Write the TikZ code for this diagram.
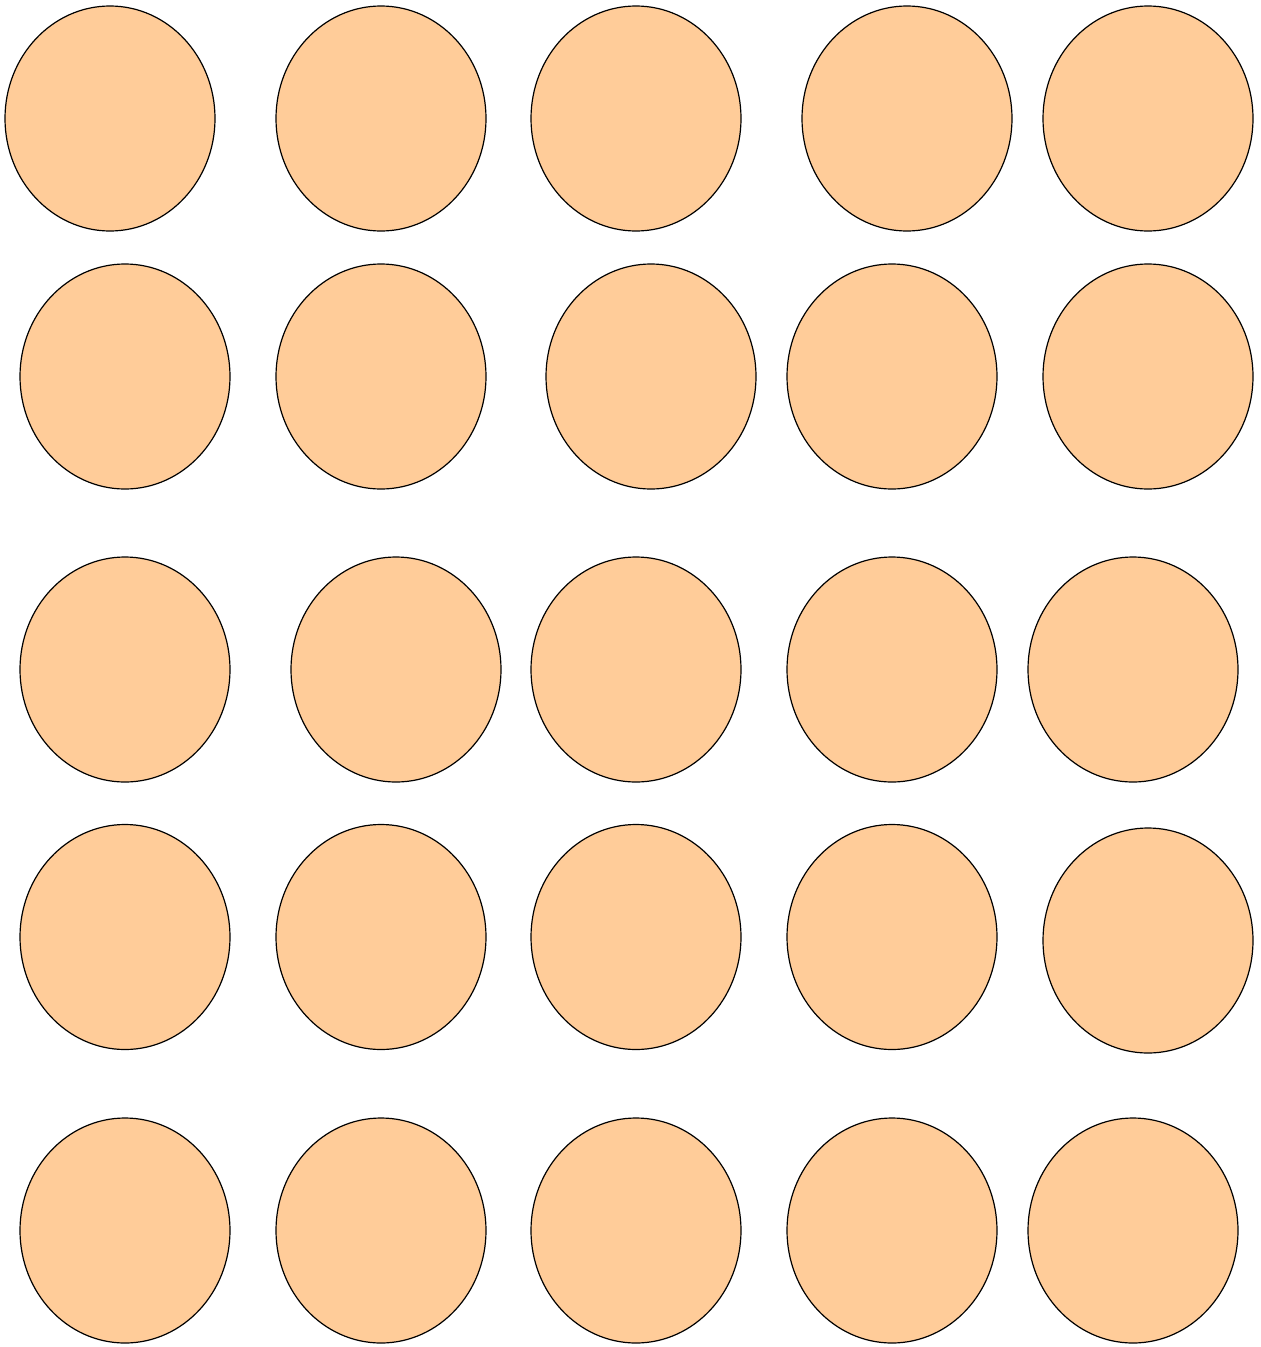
\documentclass[tikz,border=0pt]{standalone}
\usetikzlibrary{shapes.geometric}
\definecolor{peach}{HTML}{FFCC99}
\begin{document}
\begin{tikzpicture}[x=1pt,y=-1pt,
  blob/.style={ellipse,draw=black,fill=peach,line width=1.2pt,minimum width=210pt,minimum height=225pt,inner sep=0pt}]
\useasboundingbox (0,0) rectangle (1261,1347);
% row 1
\node[blob] (a1) at (110,118.5) {};
\node[blob] (a2) at (381,118.5) {};
\node[blob] (a3) at (636,118.5) {};
\node[blob] (a4) at (907,118.5) {};
\node[blob] (a5) at (1148,118.5) {};
% row 2
\node[blob] (b1) at (125,376.5) {};
\node[blob] (b2) at (381,376.5) {};
\node[blob] (b3) at (651,376.5) {};
\node[blob] (b4) at (892,376.5) {};
\node[blob] (b5) at (1148,376.5) {};
% row 3
\node[blob] (c1) at (125,669.5) {};
\node[blob] (c2) at (396,669.5) {};
\node[blob] (c3) at (636,669.5) {};
\node[blob] (c4) at (892,669.5) {};
\node[blob] (c5) at (1133,669.5) {};
% row 4
\node[blob] (d1) at (125,937) {};
\node[blob] (d2) at (381,937) {};
\node[blob] (d3) at (636,937) {};
\node[blob] (d4) at (892,937) {};
\node[blob] (d5) at (1148,940.5) {};
% row 5
\node[blob] (e1) at (125,1230.5) {};
\node[blob] (e2) at (381,1230.5) {};
\node[blob] (e3) at (636,1230.5) {};
\node[blob] (e4) at (892,1230.5) {};
\node[blob] (e5) at (1133,1230.5) {};
\end{tikzpicture}
\end{document}
